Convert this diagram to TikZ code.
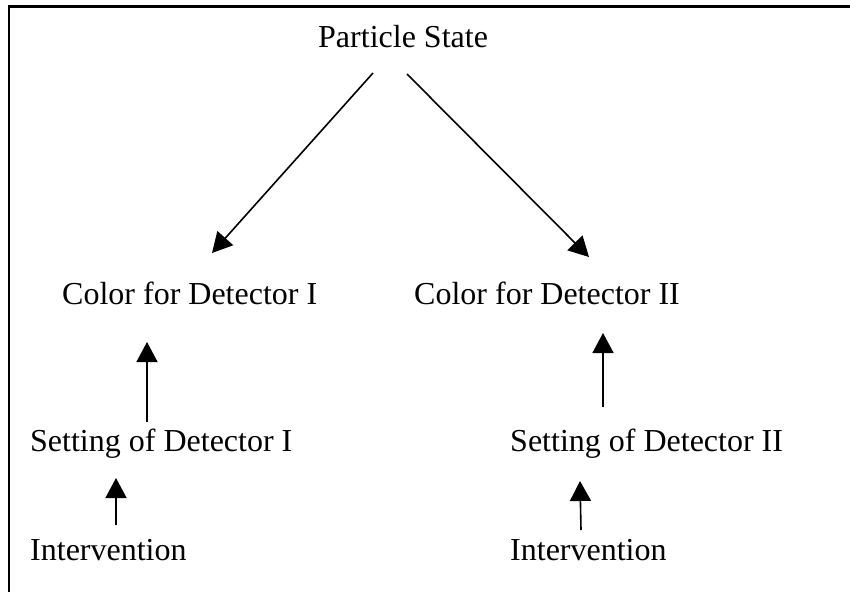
\documentclass[tikz,border=0pt]{standalone}
\usepackage{fontspec}
\setmainfont{Liberation Serif}
\usetikzlibrary{arrows.meta,calc}
\begin{document}
\begin{tikzpicture}[x=1pt,y=-1pt,
  label/.style={anchor=base west,inner sep=0pt,font=\fontsize{32}{38}\selectfont},
  arr/.style={line width=1.6pt,-{Triangle[length=20pt,width=21pt]}},
  frame/.style={line width=2.4pt}]
\useasboundingbox (0,0) rectangle (850,592);
% open frame: left and top edges
\draw[frame] (9,592) -- (9,6.5) -- (850,6.5);
% labels
\node[label] (ps) at (318,47)  {Particle State};
\node[label] (c1) at (62,304)  {Color for Detector I};
\node[label] (c2) at (414,304) {Color for Detector II};
\node[label] (s1) at (30,451)  {Setting of Detector I};
\node[label] (s2) at (510,451) {Setting of Detector II};
\node[label] (i1) at (30,560)  {Intervention};
\node[label] (i2) at (510,560) {Intervention};
% causal arrows
\draw[arr] ($(ps.base west)+(55,26)$) -- ($(c1.base west)+(150,-51)$);
\draw[arr] ($(ps.base west)+(89,27)$) -- ($(c2.base west)+(175,-47)$);
\draw[arr] ($(s1.base west)+(117,-29)$) -- ($(c1.base west)+(85,38)$);
\draw[arr] ($(s2.base west)+(93,-44)$) -- ($(c2.base west)+(189,29)$);
\draw[arr] ($(i1.base west)+(86,-35)$) -- ($(s1.base west)+(86,27)$);
\draw[arr] ($(i2.base west)+(71,-30)$) -- ($(s2.base west)+(70,30)$);
\end{tikzpicture}
\end{document}
